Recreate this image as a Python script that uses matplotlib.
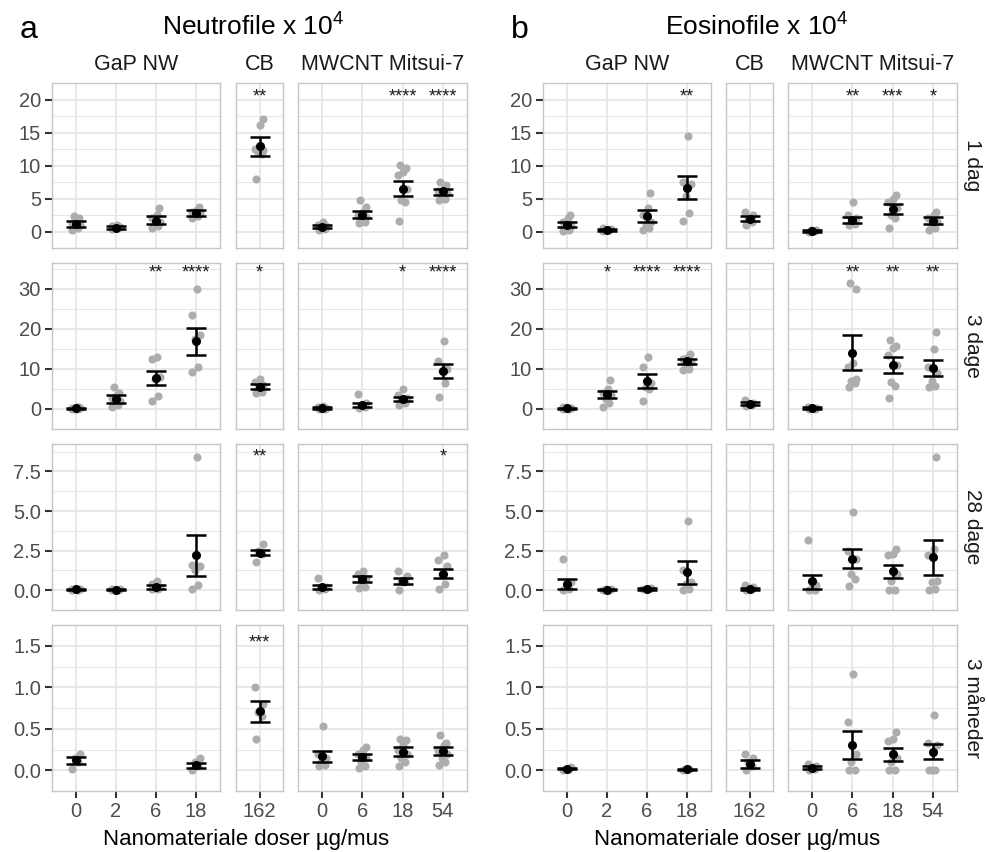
import matplotlib
matplotlib.use("Agg")
import matplotlib.pyplot as plt

plt.rcParams["font.family"] = ["Liberation Sans", "DejaVu Sans"]
plt.rcParams["mathtext.fontset"] = "custom"
plt.rcParams["mathtext.rm"] = "Liberation Sans"

W, H = 988, 852

# ---------------------------------------------------------------- data
groups = ["GaP NW", "CB", "MWCNT Mitsui-7"]
gap_doses = ["0", "2", "6", "18"]
cb_doses = ["162"]
mw_doses = ["0", "6", "18", "54"]
times = ["1 dag", "3 dage", "28 dage", "3 måneder"]

# 9 positions per row: GaP 0,2,6,18 | CB 162 | MWCNT 0,6,18,54
neu_pts_1dag = [
    [0.3, 0.5, 0.8, 1.0, 1.3, 1.8, 2.1, 2.3],
    [0.4, 0.5, 0.6, 0.7, 0.8, 1.0],
    [0.5, 0.9, 1.2, 1.5, 2.0, 2.5, 3.5],
    [2.0, 2.3, 2.5, 2.8, 3.0, 3.3, 3.7],
    [8.0, 11.8, 12.0, 12.3, 12.5, 16.2, 17.0],
    [0.2, 0.4, 0.6, 0.8, 1.0, 1.4],
    [1.3, 1.5, 1.8, 2.2, 2.5, 2.9, 3.7, 4.8],
    [1.6, 4.4, 4.8, 6.5, 8.5, 9.0, 9.6, 10.1],
    [4.7, 5.0, 5.5, 5.8, 6.2, 6.5, 7.0, 7.5],
]
neu_pts_3dage = [
    [0.0, 0.05, 0.1, 0.2, 0.3, 0.4, 0.5],
    [0.5, 1.0, 1.5, 2.0, 2.8, 3.5, 4.0, 5.5],
    [2.0, 3.3, 7.5, 8.0, 12.4, 13.0],
    [9.2, 10.5, 17.5, 18.5, 23.4, 29.8],
    [4.0, 4.2, 5.0, 6.0, 6.8, 7.5],
    [0.0, 0.1, 0.2, 0.3, 0.5, 0.7],
    [0.2, 0.6, 1.0, 1.5, 3.8],
    [1.0, 1.5, 2.0, 2.8, 3.5, 5.1],
    [3.0, 6.5, 9.5, 10.0, 12.0, 17.0],
]
neu_pts_28dage = [
    [0.0, 0.02, 0.05, 0.08, 0.1],
    [0.0, 0.02, 0.04, 0.06, 0.1],
    [0.05, 0.1, 0.15, 0.2, 0.4, 0.6],
    [0.05, 0.35, 1.3, 1.5, 1.6, 8.4],
    [1.8, 2.3, 2.5, 2.9],
    [0.0, 0.1, 0.15, 0.2, 0.75],
    [0.17, 0.2, 0.6, 0.8, 1.0, 1.2],
    [0.0, 0.5, 0.6, 0.9, 1.2],
    [0.1, 0.4, 1.0, 1.5, 1.9, 2.2],
]
neu_pts_3mdr = [
    [0.01, 0.1, 0.15, 0.2],
    [],
    [],
    [0.0, 0.05, 0.1, 0.15],
    [0.38, 0.65, 0.7, 0.8, 1.0],
    [0.05, 0.06, 0.1, 0.15, 0.2, 0.53],
    [0.03, 0.05, 0.1, 0.15, 0.2, 0.25, 0.28],
    [0.05, 0.1, 0.15, 0.2, 0.25, 0.3, 0.36, 0.38],
    [0.06, 0.1, 0.15, 0.2, 0.25, 0.3, 0.33, 0.42],
]
neu_mean = [
    [1.1, 0.6, 1.6, 2.8, 12.9, 0.7, 2.5, 6.5, 6.1],
    [0.2, 2.5, 7.8, 16.9, 5.5, 0.3, 1.0, 2.5, 9.4],
    [0.05, 0.04, 0.2, 2.2, 2.37, 0.18, 0.7, 0.6, 1.04],
    [0.12, None, None, 0.06, 0.71, 0.17, 0.16, 0.22, 0.23],
]
neu_lo = [
    [0.7, 0.45, 1.1, 2.4, 11.5, 0.5, 2.0, 5.4, 5.5],
    [0.05, 1.6, 6.0, 13.4, 4.9, 0.1, 0.5, 1.9, 7.8],
    [0.0, 0.0, 0.06, 0.9, 2.2, 0.05, 0.52, 0.4, 0.75],
    [0.07, None, None, 0.03, 0.58, 0.1, 0.12, 0.17, 0.18],
]
neu_hi = [
    [1.6, 0.8, 2.3, 3.2, 14.3, 0.95, 3.1, 7.7, 6.5],
    [0.35, 3.4, 9.5, 20.3, 6.2, 0.5, 1.6, 3.1, 11.1],
    [0.1, 0.09, 0.35, 3.46, 2.54, 0.3, 0.87, 0.77, 1.33],
    [0.16, None, None, 0.09, 0.84, 0.23, 0.2, 0.28, 0.28],
]
neu_sig = [
    ["", "", "", "", "**", "", "", "****", "****"],
    ["", "", "**", "****", "*", "", "", "*", "****"],
    ["", "", "", "", "**", "", "", "", "*"],
    ["", "", "", "", "***", "", "", "", ""],
]

eos_pts_1dag = [
    [0.1, 0.2, 0.4, 0.8, 1.5, 2.0, 2.5],
    [0.1, 0.2, 0.3, 0.4, 0.6],
    [0.2, 0.5, 1.0, 1.5, 2.5, 3.5, 5.8],
    [1.6, 2.8, 5.4, 7.2, 7.5, 14.4],
    [1.0, 1.5, 2.0, 2.5, 3.0],
    [0.0, 0.1, 0.2, 0.3],
    [1.0, 1.2, 1.5, 2.0, 2.5, 4.5],
    [0.5, 2.0, 2.5, 3.5, 4.5, 5.0, 5.6],
    [0.3, 0.5, 1.0, 1.5, 2.0, 2.5, 2.9],
]
eos_pts_3dage = [
    [0.0, 0.1, 0.2, 0.3, 0.4],
    [0.5, 1.4, 2.5, 3.5, 4.0, 5.0, 7.1],
    [2.0, 5.0, 5.5, 6.5, 10.5, 13.0],
    [9.8, 10.0, 11.0, 11.8, 12.5, 13.0, 13.8],
    [0.7, 1.0, 1.3, 1.6, 2.2],
    [0.0, 0.1, 0.2, 0.3, 0.5],
    [5.5, 6.5, 7.0, 7.5, 10.5, 11.5, 29.8, 31.4],
    [2.7, 5.8, 6.6, 11.0, 13.5, 15.2, 15.8, 17.3],
    [5.4, 5.8, 7.0, 9.0, 10.5, 15.0, 19.2],
]
eos_pts_28dage = [
    [0.0, 0.1, 0.2, 0.5, 1.96],
    [0.0, 0.02, 0.05, 0.08],
    [0.05, 0.08, 0.1, 0.15],
    [0.0, 0.1, 0.4, 0.5, 1.3, 4.4],
    [0.0, 0.05, 0.1, 0.2, 0.3],
    [0.0, 0.0, 0.1, 0.3, 3.2],
    [0.28, 0.7, 1.04, 2.0, 2.5, 4.96],
    [0.0, 0.0, 0.6, 1.0, 2.2, 2.3, 2.6],
    [0.0, 0.1, 0.5, 0.6, 2.2, 2.6, 8.4],
]
eos_pts_3mdr = [
    [0.0, 0.01, 0.02, 0.04],
    [],
    [],
    [0.0, 0.01, 0.02],
    [0.0, 0.05, 0.1, 0.15, 0.19],
    [0.0, 0.02, 0.03, 0.05, 0.08],
    [0.0, 0.0, 0.1, 0.2, 0.58, 1.16],
    [0.0, 0.0, 0.1, 0.15, 0.35, 0.38, 0.46],
    [0.0, 0.0, 0.0, 0.3, 0.33, 0.66],
]
eos_mean = [
    [1.0, 0.3, 2.3, 6.6, 1.9, 0.1, 1.8, 3.4, 1.6],
    [0.2, 3.7, 6.9, 11.9, 1.3, 0.2, 14.0, 10.9, 10.3],
    [0.4, 0.03, 0.08, 1.13, 0.1, 0.55, 2.0, 1.2, 2.1],
    [0.02, None, None, 0.01, 0.08, 0.03, 0.31, 0.19, 0.22],
]
eos_lo = [
    [0.7, 0.15, 1.5, 4.9, 1.6, 0.0, 1.35, 2.6, 1.2],
    [0.05, 2.7, 5.2, 11.3, 0.9, 0.05, 9.6, 8.9, 8.3],
    [0.06, 0.0, 0.03, 0.42, 0.04, 0.1, 1.38, 0.75, 0.98],
    [0.01, None, None, 0.0, 0.03, 0.02, 0.14, 0.11, 0.13],
]
eos_hi = [
    [1.5, 0.45, 3.3, 8.4, 2.3, 0.2, 2.2, 4.2, 2.2],
    [0.35, 4.5, 8.6, 12.5, 1.7, 0.4, 18.4, 13.0, 12.2],
    [0.69, 0.06, 0.13, 1.85, 0.16, 0.98, 2.6, 1.6, 3.2],
    [0.03, None, None, 0.02, 0.12, 0.05, 0.47, 0.27, 0.32],
]
eos_sig = [
    ["", "", "", "**", "", "", "**", "***", "*"],
    ["", "*", "****", "****", "", "", "**", "**", "**"],
    ["", "", "", "", "", "", "", "", ""],
    ["", "", "", "", "", "", "", "", ""],
]

# y scales per row
row_ylim = [(-0.55, 21.9), (-1.4, 36.4), (-0.35, 9.23), (-0.062, 1.644)]
row_yticks = [[0, 5, 10, 15, 20], [0, 10, 20, 30], [0, 2.5, 5, 7.5], [0, 0.5, 1.0, 1.5]]
row_ylabels = [["0", "5", "10", "15", "20"], ["0", "10", "20", "30"],
               ["0.0", "2.5", "5.0", "7.5"], ["0.0", "0.5", "1.0", "1.5"]]
row_star_y = [20.4, 33.9, 8.38, 1.535]

# ---------------------------------------------------------------- layout (pixels)
col_px = [[(52, 220), (236, 283), (298, 467)],
          [(543, 711), (726, 773), (788, 957)]]
row_px = [(83, 248), (263, 429), (444, 610), (625, 791)]
jit = [-0.09, 0.06, -0.03, 0.1, -0.11, 0.02, 0.08, -0.06, 0.04, -0.01]

PT_GREY = "#adadad"
BORDER = "#c6c6c6"
GRID = "#e6e6e6"
TXT = "#4d4d4d"

fig = plt.figure(figsize=(W / 100, H / 100), dpi=100)


def box(x0, x1, y0, y1):
    return [x0 / W, 1 - y1 / H, (x1 - x0) / W, (y1 - y0) / H]


panels = [
    ("a", "Neutrofile x 10$^{4}$", [neu_pts_1dag, neu_pts_3dage, neu_pts_28dage, neu_pts_3mdr],
     neu_mean, neu_lo, neu_hi, neu_sig, 253),
    ("b", "Eosinofile x 10$^{4}$", [eos_pts_1dag, eos_pts_3dage, eos_pts_28dage, eos_pts_3mdr],
     eos_mean, eos_lo, eos_hi, eos_sig, 757),
]
dose_sets = [gap_doses, cb_doses, mw_doses]
offsets = [0, 4, 5]

for p, (letter, title, pts_rows, means, los, his, sigs, tx) in enumerate(panels):
    cols = col_px[p]
    fig.text((cols[0][0] - 32) / W, 1 - 38 / H, letter, fontsize=23, ha="left", va="baseline")
    fig.text(tx / W, 1 - 35 / H, title, fontsize=19, ha="center", va="baseline")
    for g, (x0, x1) in enumerate(cols):
        fig.text((x0 + x1) / 2 / W, 1 - 70 / H, groups[g], fontsize=15.5, ha="center",
                 va="baseline", color="#1a1a1a")
    for r, (y0, y1) in enumerate(row_px):
        for g, (x0, x1) in enumerate(cols):
            ax = fig.add_axes(box(x0, x1, y0, y1))
            labels = dose_sets[g]
            n = len(labels)
            ax.set_xlim(-0.6, n - 0.4)
            ax.set_ylim(*row_ylim[r])
            ax.set_xticks(range(n))
            ticks = row_yticks[r]
            ax.set_yticks(ticks)
            step = ticks[1] - ticks[0]
            ax.set_yticks([t + step / 2 for t in [ticks[0] - step] + ticks], minor=True)
            ax.grid(True, which="major", color=GRID, lw=1.3, zorder=0)
            ax.grid(True, which="minor", axis="y", color=GRID, lw=0.7, zorder=0)
            ax.set_axisbelow(True)
            for s in ax.spines.values():
                s.set_color(BORDER)
                s.set_linewidth(1.0)
            ax.tick_params(which="minor", length=0)
            ax.tick_params(axis="both", colors="#333333", labelcolor=TXT, labelsize=14.5,
                           width=1.5, length=5, pad=3)
            if g == 0:
                ax.set_yticklabels(row_ylabels[r])
            else:
                ax.tick_params(axis="y", length=0, labelleft=False)
            if r == 3:
                ax.set_xticklabels(labels)
            else:
                ax.tick_params(axis="x", length=0, labelbottom=False)

            for i in range(n):
                k = offsets[g] + i
                vals = pts_rows[r][k]
                xs = [i + jit[j % len(jit)] for j in range(len(vals))]
                ax.scatter(xs, vals, s=34, color=PT_GREY, linewidths=0, zorder=2)
                m = means[r][k]
                if m is not None:
                    ax.errorbar([i], [m], yerr=[[m - los[r][k]], [his[r][k] - m]], fmt="o",
                                color="black", ms=5.5, lw=1.8, capsize=7.5, capthick=1.8,
                                zorder=3)
                if sigs[r][k]:
                    ax.text(i, row_star_y[r], sigs[r][k], ha="center", va="center",
                            fontsize=13, color="#1a1a1a")
            if p == 1 and g == 2:
                ax.text(1.0 + 15 / (x1 - x0), 0.5, times[r], transform=ax.transAxes,
                        rotation=-90, ha="center", va="center", fontsize=15,
                        color="#1a1a1a")
    fig.text((cols[0][0] + cols[2][1]) / 2 / W - 13 / W, 1 - 845 / H,
             "Nanomateriale doser µg/mus", fontsize=16, ha="center", va="baseline")

fig.savefig("out.png", dpi=100)
